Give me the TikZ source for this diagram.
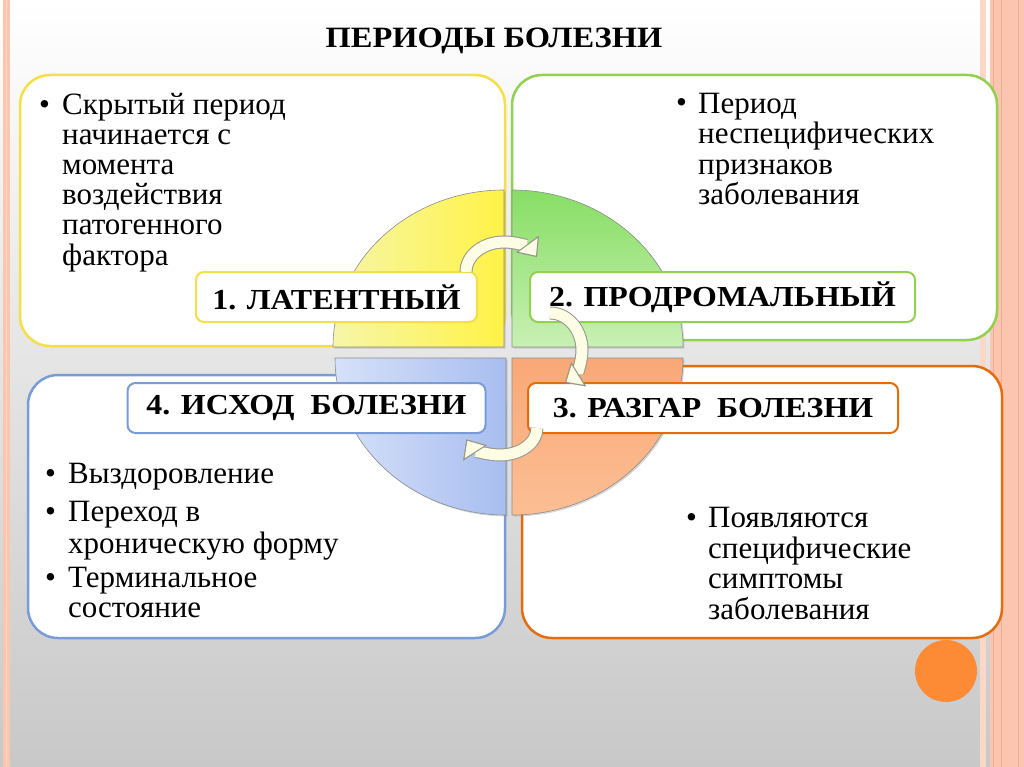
\documentclass[tikz,border=0pt]{standalone}
\usepackage{fontspec}
\setmainfont{Liberation Serif}
\newfontfamily\headfont[FakeStretch=1.1]{Liberation Serif}
\usetikzlibrary{arrows.meta,shadows}

\definecolor{latcol}{RGB}{245,222,70}
\definecolor{procol}{RGB}{146,208,80}
\definecolor{razcol}{RGB}{228,108,10}
\definecolor{iscol}{RGB}{122,156,214}
\definecolor{latpale}{RGB}{246,246,170}
\definecolor{latdeep}{RGB}{255,243,70}
\definecolor{propale}{RGB}{200,240,180}
\definecolor{prodeep}{RGB}{135,222,100}
\definecolor{ispale}{RGB}{214,225,249}
\definecolor{isdeep}{RGB}{168,190,240}
\definecolor{razpale}{RGB}{252,190,148}
\definecolor{razdeep}{RGB}{249,168,118}
\definecolor{turnfill}{RGB}{253,252,228}
\definecolor{turnedge}{RGB}{150,150,138}
\definecolor{stripe}{RGB}{251,197,176}
\definecolor{stripelight}{RGB}{252,214,200}
\definecolor{stripedark}{RGB}{244,170,140}
\definecolor{dotorange}{RGB}{253,138,53}
\definecolor{bgmid}{RGB}{240,240,240}
\definecolor{bgbot}{RGB}{200,200,200}

\tikzset{
  bigbox/.style={draw, line width=2.5pt, rounded corners=30pt, fill=white, inner sep=0pt},
  stage/.style={draw, line width=2pt, rounded corners=8pt, fill=white, minimum height=50pt,
    inner sep=0pt, font=\headfont\bfseries\fontsize{29}{30}\selectfont},
  quarter/.style={draw=black!45, line width=0.6pt,
    drop shadow={shadow xshift=1.5pt, shadow yshift=-1.5pt, opacity=0.3}},
  turn/.style={draw=turnfill, line width=11pt,
    -{Triangle[width=28pt,length=16pt,line width=1pt,color=turnedge,fill=turnfill]},
    preaction={draw=turnedge, line width=13pt, -{Triangle[width=28pt,length=16pt,line width=1pt]}}},
  dot/.style={anchor=base west, inner sep=0pt, font=\fontsize{31}{30}\selectfont},
  lines/.style={anchor=base west, inner sep=0pt, align=left, font=\fontsize{31}{30}\selectfont}
}

\begin{document}
\begin{tikzpicture}[x=1pt, y=-1pt]
	\useasboundingbox (0,0) rectangle (1024,767);

	% Background and side stripes
	\shade[top color=white, middle color=bgmid, bottom color=bgbot] (0,0) rectangle (1024,767);
	\fill[stripe] (3,0) rectangle (10,767);
	\draw[stripelight, line width=1pt] (6.5,0) -- (6.5,767);
	\fill[stripelight] (980,0) rectangle (986,767);
	\fill[stripe] (990,0) rectangle (1024,767);
	\draw[stripedark, line width=0.8pt] (993,0) -- (993,767);
	\draw[stripedark, line width=0.8pt] (1001,0) -- (1001,767);
	\draw[stripedark, line width=0.8pt] (1018,0) -- (1018,767);
	\fill[dotorange] (946,671) circle (31);

	% Title
	\node[anchor=base, inner sep=0pt, font=\headfont\bfseries\fontsize{29.5}{30}\selectfont] (title) at (494,48) {ПЕРИОДЫ БОЛЕЗНИ};

	% Outer boxes
	\node[bigbox, draw=latcol, minimum width=485pt, minimum height=271pt] (latbox) at (262.5,210.5) {};
	\node[bigbox, draw=procol, minimum width=485pt, minimum height=265pt] (probox) at (754.5,207.5) {};
	\node[bigbox, draw=iscol, minimum width=477pt, minimum height=263pt] (isbox) at (266.5,506.5) {};
	\node[bigbox, draw=razcol, minimum width=480pt, minimum height=272pt] (razbox) at (762,502) {};

	% Quarters of the wheel
	\draw[quarter, left color=latpale, right color=latdeep] (504,347) -- ++(-171,0)
		arc[start angle=180, end angle=270, x radius=171, y radius=157] -- cycle;
	\draw[quarter, top color=prodeep, bottom color=propale] (512,347) -- ++(0,-157)
		arc[start angle=270, end angle=360, x radius=171, y radius=157] -- cycle;
	\draw[quarter, top color=razdeep, bottom color=razpale] (512,358) -- ++(171,0)
		arc[start angle=0, end angle=90, x radius=171, y radius=157] -- cycle;
	\draw[quarter, left color=ispale, right color=isdeep] (506,358) -- ++(0,157)
		arc[start angle=90, end angle=180, x radius=171, y radius=157] -- cycle;

	% Stage labels
	\node[stage, draw=latcol, minimum width=281pt] (lat) at (336.5,297) {1. ЛАТЕНТНЫЙ};
	\node[stage, draw=procol, minimum width=385pt] (pro) at (722.5,297) {2. ПРОДРОМАЛЬНЫЙ};
	\node[stage, draw=razcol, minimum width=370pt] (raz) at (713,408) {3. РАЗГАР~~БОЛЕЗНИ};
	\node[stage, draw=iscol, minimum width=358pt] (isx) at (306.5,408) {4. ИСХОД~~БОЛЕЗНИ};

	% Turning arrows
	\coordinate (t1) at (466,272);
	\coordinate (t2) at (550,313);
	\coordinate (t3) at (537,428);
	\draw[turn] (t1) arc[start angle=180, end angle=330, x radius=38, y radius=30];
	\draw[turn] (t2) arc[start angle=-90, end angle=62, x radius=32, y radius=37];
	\draw[turn] (t3) arc[start angle=0, end angle=155, x radius=37, y radius=27];

	% Box texts (a node's base is its last line)
	\node[dot] (latd) at (39,115) {•};
	\node[lines] (latt) at (62,265) {Скрытый период\\начинается с\\момента\\воздействия\\патогенного\\фактора};

	\node[dot] (prod) at (676,113) {•};
	\node[lines] (prot) at (698,205) {Период\\[0.5pt]неспецифических\\[0.5pt]признаков\\[0.5pt]заболевания};

	\node[dot] (isd1) at (45,483) {•};
	\node[lines] (ist1) at (68,483) {Выздоровление};
	\node[dot] (isd2) at (45,521) {•};
	\node[lines] (ist2) at (68,553) {Переход в\\[2pt]хроническую форму};
	\node[dot] (isd3) at (45,587) {•};
	\node[lines] (ist3) at (68,617) {Терминальное\\состояние};

	\node[dot] (razd) at (686,527) {•};
	\node[lines] (razt) at (708,619) {Появляются\\[0.5pt]специфические\\[0.5pt]симптомы\\[0.5pt]заболевания};
\end{tikzpicture}
\end{document}
